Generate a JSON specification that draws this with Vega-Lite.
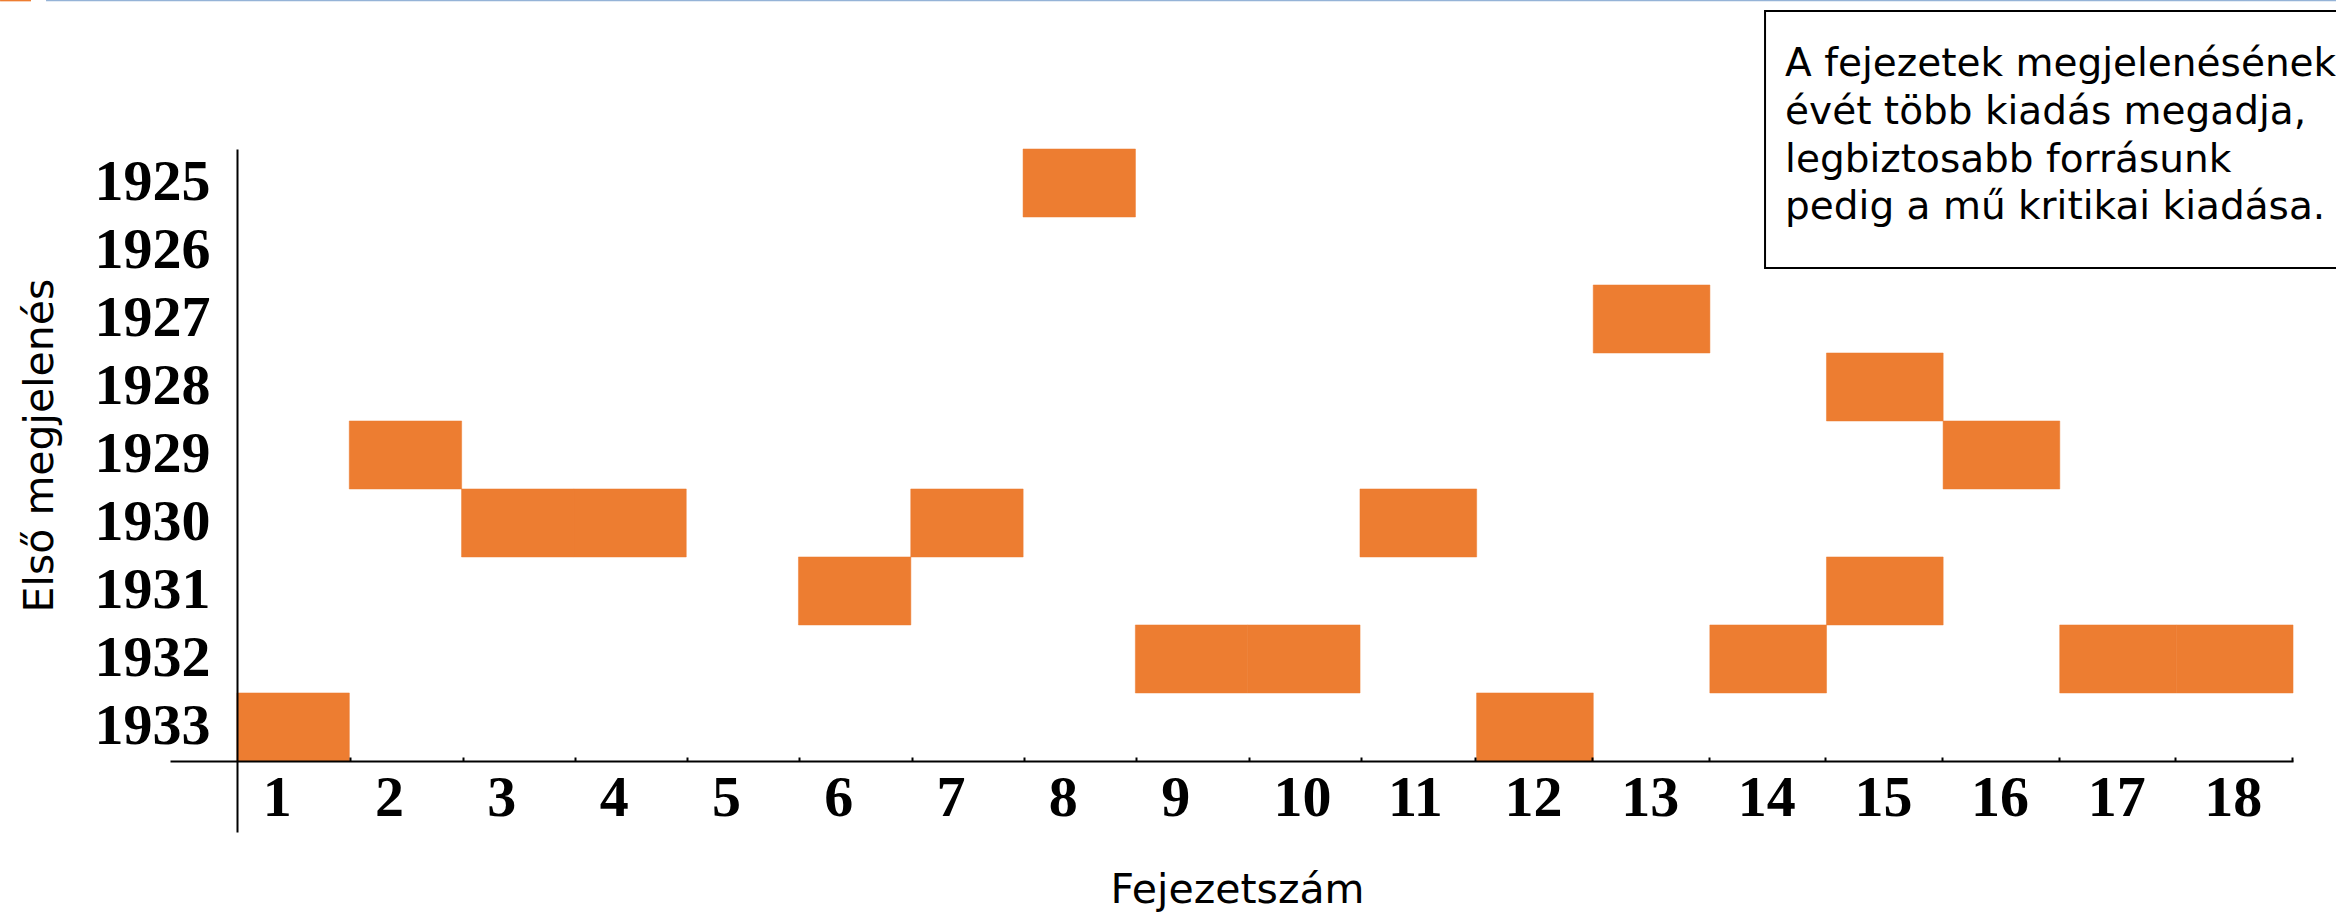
{
  "$schema": "https://vega.github.io/schema/vega-lite/v6.json",
  "width": 2123,
  "height": 683,
  "autosize": {"type": "none"},
  "padding": {"left": 170, "top": 149, "right": 43, "bottom": 81},
  "background": "white",
  "config": {"view": {"stroke": null}},
  "data": {"values": [
    {"chapter": 1, "year": 1933},
    {"chapter": 2, "year": 1929},
    {"chapter": 3, "year": 1930},
    {"chapter": 4, "year": 1930},
    {"chapter": 6, "year": 1931},
    {"chapter": 7, "year": 1930},
    {"chapter": 8, "year": 1925},
    {"chapter": 9, "year": 1932},
    {"chapter": 10, "year": 1932},
    {"chapter": 11, "year": 1930},
    {"chapter": 12, "year": 1933},
    {"chapter": 13, "year": 1927},
    {"chapter": 14, "year": 1932},
    {"chapter": 15, "year": 1928},
    {"chapter": 15, "year": 1931},
    {"chapter": 16, "year": 1929},
    {"chapter": 17, "year": 1932},
    {"chapter": 18, "year": 1932}
  ]},
  "layer": [
    {
      "transform": [{"filter": "datum.chapter <= 10"}],
      "mark": {"type": "rect", "width": 112.4, "height": 68, "color": "#ED7D31", "stroke": "#ED7D31", "strokeWidth": 0.5},
      "encoding": {
        "x": {
          "field": "chapter", "type": "quantitative",
          "scale": {"domain": [-0.1, 0.5, 10.5, 18.5], "range": [0, 67, 1190, 2123], "nice": false, "zero": false},
          "axis": {
            "title": "Fejezetszám",
            "values": [1,2,3,4,5,6,7,8,9,10,11,12,13,14,15,16,17,18],
            "format": "d",
            "offset": -71,
            "zindex": 1,
            "grid": false,
            "domainColor": "black", "domainWidth": 2,
            "ticks": true, "tickColor": "black", "tickWidth": 2, "tickSize": -4,
            "tickOffset": 57.1, "labelOffset": -88,
            "labelAlign": "left",
            "labelPadding": 12,
            "labelFont": "Liberation Serif", "labelFontWeight": "bold", "labelFontSize": 58, "labelColor": "black",
            "labelFlush": false, "labelOverlap": false,
            "titleFont": "DejaVu Sans", "titleFontSize": 41, "titleFontWeight": "normal", "titleColor": "black",
            "titleX": 1067, "titleY": 141, "titleBaseline": "alphabetic", "titleAlign": "center"
          }
        },
        "y": {
          "field": "year", "type": "quantitative",
          "scale": {"domain": [1924.5, 1934.545], "reverse": true, "nice": false, "zero": false},
          "axis": {
            "title": "Első megjelenés",
            "values": [1925,1926,1927,1928,1929,1930,1931,1932,1933],
            "format": "d",
            "offset": -67,
            "zindex": 1,
            "grid": false,
            "domainColor": "black", "domainWidth": 2,
            "ticks": false, "tickSize": 0,
            "labelPadding": 27,
            "labelFont": "Liberation Serif", "labelFontWeight": "bold", "labelFontSize": 58, "labelColor": "black",
            "labelFlush": false, "labelOverlap": false,
            "titleFont": "DejaVu Sans", "titleFontSize": 41, "titleFontWeight": "normal", "titleColor": "black",
            "titleX": -185, "titleY": 296, "titleAngle": 270, "titleBaseline": "alphabetic", "titleAlign": "center"
          }
        }
      }
    },
    {
      "transform": [{"filter": "datum.chapter > 10"}],
      "mark": {"type": "rect", "width": 116.7, "height": 68, "color": "#ED7D31", "stroke": "#ED7D31", "strokeWidth": 0.5},
      "encoding": {
        "x": {"field": "chapter", "type": "quantitative"},
        "y": {"field": "year", "type": "quantitative"}
      }
    },
    {
      "data": {"values": [{}]},
      "mark": {"type": "rect", "fill": "white", "stroke": "black", "strokeWidth": 2},
      "encoding": {
        "x": {"datum": 13.973, "type": "quantitative"},
        "x2": {"datum": 19.2},
        "y": {"datum": 1922.47, "type": "quantitative"},
        "y2": {"datum": 1926.25}
      }
    },
    {
      "data": {"values": [{}]},
      "mark": {"type": "text", "font": "DejaVu Sans", "fontSize": 39, "color": "black", "align": "left", "baseline": "top", "lineHeight": 47.7},
      "encoding": {
        "x": {"datum": 14.145, "type": "quantitative"},
        "y": {"datum": 1922.974, "type": "quantitative"},
        "text": {"value": ["A fejezetek megjelenésének", "évét több kiadás megadja,", "legbiztosabb forrásunk", "pedig a mű kritikai kiadása."]}
      }
    },
    {
      "data": {"values": [{}]},
      "mark": {"type": "rule", "color": "#ED7D31", "strokeWidth": 2.5},
      "encoding": {
        "x": {"datum": -1.622, "type": "quantitative"},
        "x2": {"datum": -1.345},
        "y": {"datum": 1922.31, "type": "quantitative"}
      }
    },
    {
      "data": {"values": [{}]},
      "mark": {"type": "rule", "color": "#95B3D7", "strokeWidth": 2.5},
      "encoding": {
        "x": {"datum": -1.21, "type": "quantitative"},
        "x2": {"datum": 19.2},
        "y": {"datum": 1922.31, "type": "quantitative"}
      }
    }
  ]
}
